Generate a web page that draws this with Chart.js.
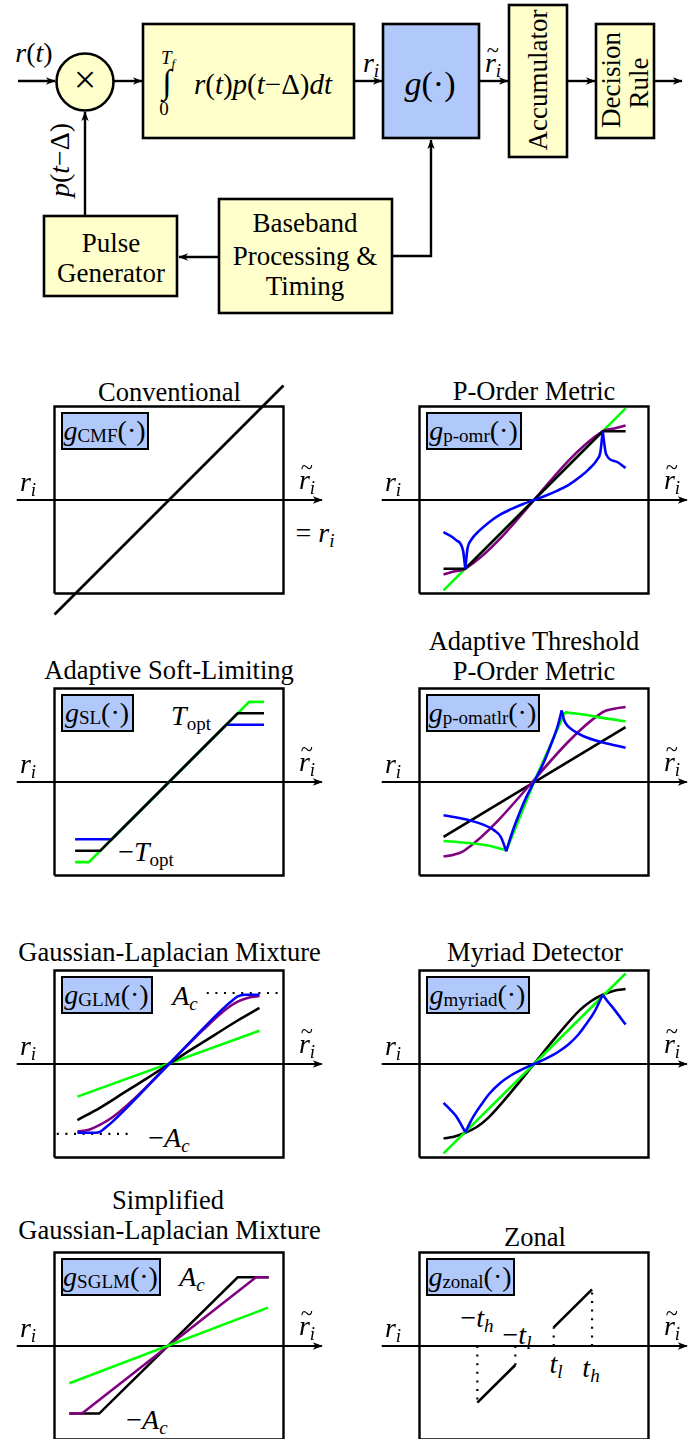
<!DOCTYPE html>
<html>
<head>
<meta charset="utf-8">
<script src="https://cdn.jsdelivr.net/npm/chart.js@4.4.1/dist/chart.umd.min.js"></script>
<style>
html, body { margin: 0; padding: 0; background: #fff; }
body { width: 699px; height: 1439px; position: relative; overflow: hidden;
       font-family: "Liberation Serif", "Times New Roman", serif; color: #000; }
.t { position: absolute; transform: translate(-50%, -50%); white-space: nowrap; line-height: 1; }
.rot { transform: translate(-50%, -50%) rotate(-90deg); }
.i { font-style: italic; }
.title { font-size: 26.5px; }
.blk { font-size: 27px; text-align: center; }
.m { font-size: 28px; }
.sb { font-size: 0.68em; position: relative; top: 0.28em; }
.sup { font-size: 0.68em; }
.til { position: relative; display: inline-block; }
.til::after { content: "~"; position: absolute; left: 0.08em; top: -0.42em; font-size: 0.8em; font-style: normal; }
.gbox { position: absolute; height: 38px; box-sizing: border-box; border: 2.4px solid #000;
        background: #b0c8fa; display: flex; align-items: center; justify-content: center;
        font-size: 28px; white-space: nowrap; line-height: 1; }
canvas { position: absolute; }
</style>
</head>
<body>

<!-- block diagram -->
<svg width="699" height="330" style="position:absolute;left:0;top:0">
  <defs>
    <marker id="ah" markerWidth="11" markerHeight="9" refX="9" refY="4.5" orient="auto" markerUnits="userSpaceOnUse">
      <path d="M0,0.8 L9.5,4.5 L0,8.2 L2.6,4.5 Z" fill="#000"/>
    </marker>
  </defs>
  <g fill="#ffffcc" stroke="#000" stroke-width="2.6">
    <rect x="143" y="24" width="211" height="114"/>
    <rect x="509" y="5" width="58" height="152"/>
    <rect x="596" y="24" width="58" height="114"/>
    <rect x="219" y="199" width="173" height="114"/>
    <rect x="44" y="216" width="133" height="80"/>
    <circle cx="85" cy="82" r="28.5"/>
  </g>
  <rect x="383" y="24" width="96" height="114" fill="#b0c8fa" stroke="#000" stroke-width="2.6"/>
  <g stroke="#000" stroke-width="2.4" fill="none" marker-end="url(#ah)">
    <path d="M18,81 H55"/>
    <path d="M114,81 H142"/>
    <path d="M354,81 H382"/>
    <path d="M479,81 H508"/>
    <path d="M567,81 H595"/>
    <path d="M654,81 H682"/>
    <path d="M85,216 V112"/>
    <path d="M392,256 H431 V140"/>
    <path d="M219,257 H179"/>
  </g>
</svg>

<div class="t m" style="left:34px;top:53px"><span class="i">r</span>(<span class="i">t</span>)</div>
<div class="t" style="left:85px;top:80px;font-size:40px">×</div>
<div class="t i" style="left:168px;top:57px;font-size:19px">T<span class="sb">f</span></div>
<div class="t" style="left:167px;top:82px;font-size:34px">∫</div>
<div class="t" style="left:164px;top:108px;font-size:19px">0</div>
<div class="t" style="left:263px;top:84px;font-size:29px"><span class="i">r</span>(<span class="i">t</span>)<span class="i">p</span>(<span class="i">t</span>−Δ)<span class="i">dt</span></div>
<div class="t m" style="left:371px;top:63px"><span class="i">r<span class="sb">i</span></span></div>
<div class="t" style="left:430px;top:84px;font-size:34px"><span class="i">g</span>(·)</div>
<div class="t m" style="left:493px;top:63px"><span class="i"><span class="til">r</span><span class="sb">i</span></span></div>
<div class="t blk rot" style="left:538px;top:80px">Accumulator</div>
<div class="t blk rot" style="left:611px;top:80px">Decision</div>
<div class="t blk rot" style="left:639px;top:83px">Rule</div>
<div class="t blk" style="left:111px;top:243px">Pulse</div>
<div class="t blk" style="left:111px;top:273px">Generator</div>
<div class="t blk" style="left:305px;top:223px">Baseband</div>
<div class="t blk" style="left:305px;top:256px">Processing &amp;</div>
<div class="t blk" style="left:305px;top:286px">Timing</div>
<div class="t m rot" style="left:60px;top:160px"><span class="i">p</span>(<span class="i">t</span>−Δ)</div>

<!-- titles -->
<div class="t title" style="left:169.5px;top:391.5px">Conventional</div>
<div class="t title" style="left:534px;top:391px">P-Order Metric</div>
<div class="t title" style="left:169px;top:670px">Adaptive Soft-Limiting</div>
<div class="t title" style="left:534px;top:641px">Adaptive Threshold</div>
<div class="t title" style="left:534px;top:671px">P-Order Metric</div>
<div class="t title" style="left:169.5px;top:952px">Gaussian-Laplacian Mixture</div>
<div class="t title" style="left:535px;top:952px">Myriad Detector</div>
<div class="t title" style="left:168px;top:1200px">Simplified</div>
<div class="t title" style="left:169.5px;top:1230px">Gaussian-Laplacian Mixture</div>
<div class="t title" style="left:535px;top:1237px">Zonal</div>

<!-- annotations inside panels -->
<div class="t m" style="left:315px;top:533px">= <span class="i">r<span class="sb">i</span></span></div>
<div class="t m" style="left:191px;top:716px"><span class="i">T</span><span class="sb">opt</span></div>
<div class="t m" style="left:146px;top:852px">−<span class="i">T</span><span class="sb">opt</span></div>
<div class="t m" style="left:185px;top:996px"><span class="i">A<span class="sb">c</span></span></div>
<div class="t m" style="left:169px;top:1138px">−<span class="i">A<span class="sb">c</span></span></div>
<div class="t m" style="left:192px;top:1277px"><span class="i">A<span class="sb">c</span></span></div>
<div class="t m" style="left:147px;top:1420px">−<span class="i">A<span class="sb">c</span></span></div>
<div class="t m" style="left:477px;top:1318px">−<span class="i">t<span class="sb">h</span></span></div>
<div class="t m" style="left:517px;top:1335px">−<span class="i">t<span class="sb">l</span></span></div>
<div class="t m" style="left:556px;top:1364px"><span class="i">t<span class="sb">l</span></span></div>
<div class="t m" style="left:591px;top:1368px"><span class="i">t<span class="sb">h</span></span></div>

<script>
// ---- shared geometry of every panel (units: half box width = 1) ----
const AXIS_X = [-1.33, 1.335];
const AXIS_Y = [0, 0];
const BOX_X = [-1, 1, 1, -1, -1];
const BOX_Y = [-0.817, -0.817, 0.817, 0.817, -0.817];

// ---- Conventional ----
const convX = [-1.0, 1.0];
const convY = [-1.0, 1.0];

// ---- P-Order Metric ----
const pomrGreenX = [-0.79, 0.80];
const pomrGreenY = [-0.79, 0.80];
const pomrBlackX = [-0.79, -0.60, 0.60, 0.80];
const pomrBlackY = [-0.60, -0.60, 0.60, 0.60];
const pomrPurpleX = [-0.79, -0.70, -0.60, 0.60, 0.70, 0.80];
const pomrPurpleY = [-0.65, -0.625, -0.60, 0.60, 0.625, 0.65];
const pomrBlueLX = [-0.79, -0.68, -0.62, -0.60];
const pomrBlueLY = [-0.28, -0.35, -0.44, -0.60];
const pomrBlueMX = [-0.60, -0.58, -0.55, -0.48, -0.40, -0.30, -0.20, -0.10, 0, 0.10, 0.20, 0.30, 0.40, 0.48, 0.55, 0.58, 0.60];
const pomrBlueMY = [-0.60, -0.42, -0.35, -0.27, -0.20, -0.13, -0.08, -0.037, 0, 0.037, 0.08, 0.13, 0.20, 0.27, 0.35, 0.42, 0.60];
const pomrBlueRX = [0.60, 0.63, 0.72, 0.80];
const pomrBlueRY = [0.60, 0.40, 0.335, 0.28];

// ---- Adaptive Soft-Limiting ----
const slGreenX = [-0.82, -0.70, 0.70, 0.83];
const slGreenY = [-0.70, -0.70, 0.70, 0.70];
const slBlackX = [-0.82, -0.60, 0.60, 0.83];
const slBlackY = [-0.60, -0.60, 0.60, 0.60];
const slBlueX = [-0.82, -0.50, 0.50, 0.83];
const slBlueY = [-0.50, -0.50, 0.50, 0.50];

// ---- Adaptive Threshold P-Order Metric ----
const atBlackX = [-0.79, 0.80];
const atBlackY = [-0.48, 0.48];
const atPurpleX = [-0.79, -0.70, -0.61, 0.60, 0.70, 0.80];
const atPurpleY = [-0.65, -0.635, -0.60, 0.61, 0.64, 0.655];
const atGreenLX = [-0.79, -0.60, -0.40, -0.30, -0.24];
const atGreenLY = [-0.515, -0.53, -0.555, -0.58, -0.595];
const atGreenMX = [-0.24, 0, 0.27];
const atGreenMY = [-0.595, 0, 0.61];
const atGreenRX = [0.27, 0.30, 0.43, 0.60, 0.80];
const atGreenRY = [0.61, 0.605, 0.59, 0.56, 0.53];
const atBlueLX = [-0.79, -0.60, -0.45, -0.35, -0.29, -0.242];
const atBlueLY = [-0.29, -0.325, -0.37, -0.42, -0.48, -0.605];
const atBlueMX = [-0.242, -0.21, -0.18, -0.13, -0.08, 0, 0.08, 0.13, 0.18, 0.21, 0.242];
const atBlueMY = [-0.605, -0.50, -0.41, -0.28, -0.16, 0, 0.16, 0.28, 0.41, 0.50, 0.625];
const atBlueRX = [0.242, 0.26, 0.282, 0.35, 0.428, 0.603, 0.80];
const atBlueRY = [0.625, 0.55, 0.505, 0.445, 0.402, 0.344, 0.30];

// ---- Gaussian-Laplacian Mixture ----
const glmGreenX = [-0.80, 0.79];
const glmGreenY = [-0.285, 0.29];
const glmBlackX = [-0.80, -0.60, -0.40, -0.20, 0, 0.20, 0.40, 0.60, 0.79];
const glmBlackY = [-0.49, -0.38, -0.255, -0.13, 0, 0.13, 0.255, 0.38, 0.49];
const glmPurpleX = [-0.80, -0.70, -0.60, -0.50, -0.30, 0, 0.30, 0.50, 0.60, 0.70, 0.79];
const glmPurpleY = [-0.59, -0.575, -0.53, -0.47, -0.30, 0, 0.30, 0.48, 0.545, 0.58, 0.595];
const glmBlueX = [-0.80, -0.64, -0.60, -0.56, -0.50, 0, 0.50, 0.56, 0.60, 0.66, 0.79];
const glmBlueY = [-0.60, -0.60, -0.59, -0.56, -0.51, 0, 0.51, 0.56, 0.59, 0.605, 0.605];
const glmAcX = [0.33, 0.98];
const glmAcY = [0.62, 0.62];
const glmNegAcX = [-0.98, -0.31];
const glmNegAcY = [-0.61, -0.61];

// ---- Myriad Detector ----
const myrGreenX = [-0.79, 0.80];
const myrGreenY = [-0.78, 0.79];
const myrBlackX = [-0.79, -0.70, -0.60, -0.50, -0.40, -0.20, 0, 0.20, 0.40, 0.50, 0.60, 0.70, 0.80];
const myrBlackY = [-0.65, -0.635, -0.60, -0.55, -0.47, -0.245, 0, 0.245, 0.47, 0.55, 0.605, 0.64, 0.655];
const myrBlueLX = [-0.79, -0.73, -0.68, -0.60];
const myrBlueLY = [-0.34, -0.40, -0.457, -0.595];
const myrBlueMX = [-0.60, -0.53, -0.45, -0.39, -0.30, -0.21, -0.10, 0, 0.10, 0.21, 0.30, 0.39, 0.45, 0.53, 0.60];
const myrBlueMY = [-0.595, -0.46, -0.34, -0.26, -0.17, -0.105, -0.045, 0, 0.045, 0.105, 0.17, 0.26, 0.34, 0.46, 0.605];
const myrBlueRX = [0.60, 0.64, 0.69, 0.80];
const myrBlueRY = [0.605, 0.55, 0.49, 0.345];

// ---- Simplified Gaussian-Laplacian Mixture ----
const sglmGreenX = [-0.87, 0.865];
const sglmGreenY = [-0.325, 0.335];
const sglmBlackX = [-0.87, -0.61, 0.60, 0.87];
const sglmBlackY = [-0.59, -0.59, 0.60, 0.60];
const sglmPurpleX = [-0.87, -0.76, 0.76, 0.87];
const sglmPurpleY = [-0.59, -0.59, 0.60, 0.60];

// ---- Zonal ----
const zonUpX = [0.172, 0.507];
const zonUpY = [0.163, 0.495];
const zonLowX = [-0.495, -0.163];
const zonLowY = [-0.495, -0.166];
const zonTlX = [0.172, 0.172];
const zonTlY = [0, 0.163];
const zonThX = [0.507, 0.507];
const zonThY = [0, 0.495];
const zonNegThX = [-0.495, -0.495];
const zonNegThY = [0, -0.495];
const zonNegTlX = [-0.163, -0.163];
const zonNegTlY = [0, -0.166];

const GREEN = '#00ff00', BLUE = '#0000ff', PURPLE = '#800080', BLACK = '#000000';
const PX = 114.5;           // pixels per unit
const CW = 330, CH = 250;   // canvas size

function pts(xs, ys) { return xs.map((x, i) => ({ x: x, y: ys[i] })); }

function seg(xs, ys, color, w) {
  return { data: pts(xs, ys), borderColor: color, borderWidth: w || 2.6, pointRadius: 0,
           showLine: true, fill: false, tension: 0 };
}
function curve(xs, ys, color) {
  const d = seg(xs, ys, color);
  d.cubicInterpolationMode = 'monotone';
  return d;
}
function dots(xs, ys) {
  const d = seg(xs, ys, BLACK, 2.2);
  d.borderDash = [2, 6.6];
  return d;
}

// arrow tip at the end of the r_i axis
const arrowTip = {
  id: 'arrowTip',
  afterDatasetsDraw(chart) {
    const ctx = chart.ctx;
    chart.data.datasets.forEach((ds, i) => {
      if (!ds.arrowTip) return;
      const p = chart.getDatasetMeta(i).data;
      const a = p[p.length - 2], b = p[p.length - 1];
      const ang = Math.atan2(b.y - a.y, b.x - a.x);
      ctx.save();
      ctx.translate(b.x, b.y);
      ctx.rotate(ang);
      ctx.beginPath();
      ctx.moveTo(1, 0);
      ctx.lineTo(-9, -3.8);
      ctx.lineTo(-6.4, 0);
      ctx.lineTo(-9, 3.8);
      ctx.closePath();
      ctx.fillStyle = ds.borderColor;
      ctx.fill();
      ctx.restore();
    });
  }
};

const PANELS = [
  { cx: 169, cy: 500, label: 'CMF', lw: 88,
    layers: [seg(convX, convY, BLACK)] },
  { cx: 534, cy: 500, label: 'p-omr', lw: 96,
    layers: [seg(pomrGreenX, pomrGreenY, GREEN), curve(pomrPurpleX, pomrPurpleY, PURPLE),
             seg(pomrBlackX, pomrBlackY, BLACK),
             curve(pomrBlueLX, pomrBlueLY, BLUE), curve(pomrBlueMX, pomrBlueMY, BLUE), curve(pomrBlueRX, pomrBlueRY, BLUE)] },
  { cx: 169, cy: 782, label: 'SL', lw: 73,
    layers: [seg(slBlueX, slBlueY, BLUE), seg(slGreenX, slGreenY, GREEN), seg(slBlackX, slBlackY, BLACK)] },
  { cx: 534, cy: 782, label: 'p-omatlr', lw: 114,
    layers: [seg(atBlackX, atBlackY, BLACK), curve(atPurpleX, atPurpleY, PURPLE),
             curve(atGreenLX, atGreenLY, GREEN), seg(atGreenMX, atGreenMY, GREEN), curve(atGreenRX, atGreenRY, GREEN),
             curve(atBlueLX, atBlueLY, BLUE), curve(atBlueMX, atBlueMY, BLUE), curve(atBlueRX, atBlueRY, BLUE)] },
  { cx: 169, cy: 1064, label: 'GLM', lw: 92,
    layers: [dots(glmAcX, glmAcY), dots(glmNegAcX, glmNegAcY),
             seg(glmGreenX, glmGreenY, GREEN), curve(glmBlackX, glmBlackY, BLACK),
             curve(glmPurpleX, glmPurpleY, PURPLE), curve(glmBlueX, glmBlueY, BLUE)] },
  { cx: 534, cy: 1064, label: 'myriad', lw: 104,
    layers: [curve(myrBlackX, myrBlackY, BLACK), seg(myrGreenX, myrGreenY, GREEN),
             curve(myrBlueLX, myrBlueLY, BLUE), curve(myrBlueMX, myrBlueMY, BLUE), curve(myrBlueRX, myrBlueRY, BLUE)] },
  { cx: 169, cy: 1346, label: 'SGLM', lw: 100,
    layers: [seg(sglmBlackX, sglmBlackY, BLACK), seg(sglmPurpleX, sglmPurpleY, PURPLE), seg(sglmGreenX, sglmGreenY, GREEN)] },
  { cx: 534, cy: 1346, label: 'zonal', lw: 89,
    layers: [dots(zonTlX, zonTlY), dots(zonThX, zonThY), dots(zonNegThX, zonNegThY), dots(zonNegTlX, zonNegTlY),
             seg(zonUpX, zonUpY, BLACK), seg(zonLowX, zonLowY, BLACK)] }
];

function addText(html, x, y, cls) {
  const d = document.createElement('div');
  d.className = 't m ' + (cls || '');
  d.style.left = x + 'px';
  d.style.top = y + 'px';
  d.innerHTML = html;
  document.body.appendChild(d);
}

PANELS.forEach(p => {
  const cv = document.createElement('canvas');
  cv.width = CW; cv.height = CH;
  cv.style.left = (p.cx - CW / 2) + 'px';
  cv.style.top = (p.cy - CH / 2) + 'px';
  document.body.appendChild(cv);

  const frame = seg(BOX_X, BOX_Y, BLACK, 2.4);
  const axis = seg(AXIS_X, AXIS_Y, BLACK, 2.2);
  axis.arrowTip = true;
  const all = [frame, axis].concat(p.layers);
  all.forEach((d, i) => { d.order = all.length - i; });

  new Chart(cv.getContext('2d'), {
    type: 'scatter',
    data: { datasets: all },
    options: {
      responsive: false,
      animation: false,
      devicePixelRatio: 1,
      layout: { padding: 0 },
      plugins: { legend: { display: false }, tooltip: { enabled: false }, title: { display: false } },
      scales: {
        x: { type: 'linear', display: false, min: -CW / 2 / PX, max: CW / 2 / PX },
        y: { type: 'linear', display: false, min: -CH / 2 / PX, max: CH / 2 / PX }
      }
    },
    plugins: [arrowTip]
  });

  // g(.) label box
  const g = document.createElement('div');
  g.className = 'gbox';
  g.style.left = (p.cx - PX + 6) + 'px';
  g.style.top = (p.cy - 93.5 + 5) + 'px';
  g.style.width = p.lw + 'px';
  g.innerHTML = '<span class="i">g</span><span class="sb">' + p.label + '</span>(·)';
  document.body.appendChild(g);

  // axis labels
  addText('<span class="i">r<span class="sb">i</span></span>', p.cx - 141, p.cy - 18);
  addText('<span class="i"><span class="til">r</span><span class="sb">i</span></span>', p.cx + 138, p.cy - 20);
});
</script>
</body>
</html>
